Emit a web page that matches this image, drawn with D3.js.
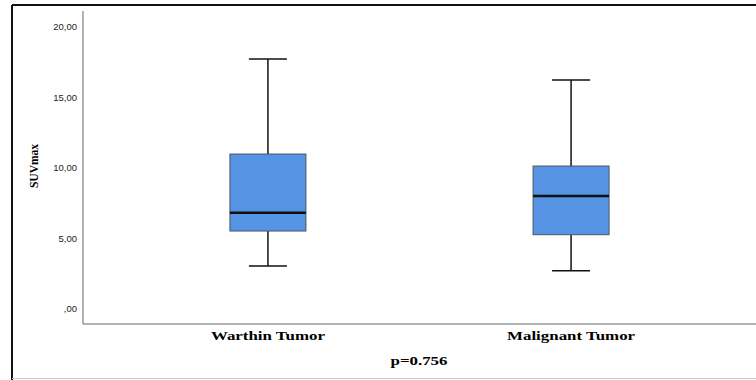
<!DOCTYPE html>
<html>
<head>
<meta charset="utf-8">
<script src="https://cdn.jsdelivr.net/npm/d3@7"></script>
<style>
  body { margin: 0; background: #fff; }
  svg { display: block; }
</style>
</head>
<body>
<div class="chart"></div>
<script>
var width = 756,
    height = 380;

// box plot data
var groups = ["Warthin Tumor", "Malignant Tumor"];
var whiskerLow  = [3.05, 2.72];
var q1          = [5.53, 5.27];
var medians     = [6.83, 8.01];
var q3          = [10.99, 10.14];
var whiskerHigh = [17.73, 16.24];
var yTicks = [0, 5, 10, 15, 20];
var pLabel = "p=0.756";

var boxes = groups.map(function(g, i) {
  return { name: g, lo: whiskerLow[i], q1: q1[i], med: medians[i], q3: q3[i], hi: whiskerHigh[i] };
});

var svg = d3.select(".chart").append("svg")
    .attr("width", width)
    .attr("height", height);

// outer frame
svg.append("line").attr("x1", 12).attr("x2", 12).attr("y1", 5).attr("y2", height)
    .attr("stroke", "#111").attr("stroke-width", 2);
svg.append("line").attr("x1", 12).attr("x2", width).attr("y1", 5).attr("y2", 5)
    .attr("stroke", "#111").attr("stroke-width", 2);
svg.append("line").attr("x1", 12).attr("x2", width).attr("y1", 378.5).attr("y2", 378.5)
    .attr("stroke", "#ccc").attr("stroke-width", 1);

var x = d3.scalePoint()
    .domain(groups)
    .range([83, 756])
    .padding(0.61);

var y = d3.scaleLinear()
    .domain([0, 20])
    .range([309, 27]);

// axes
svg.append("line").attr("x1", 83).attr("x2", 83).attr("y1", 11).attr("y2", 324)
    .attr("stroke", "#999").attr("stroke-width", 1.5);
svg.append("line").attr("x1", 83).attr("x2", width).attr("y1", 324).attr("y2", 324)
    .attr("stroke", "#999").attr("stroke-width", 1.5);

var fmt = function(d) { return d === 0 ? ",00" : d3.format(".2f")(d).replace(".", ","); };

svg.selectAll(".ytick")
    .data(yTicks)
  .enter().append("text")
    .attr("class", "ytick")
    .attr("x", 77)
    .attr("y", function(d) { return y(d); })
    .attr("dy", "0.35em")
    .attr("text-anchor", "end")
    .style("font-family", "'Liberation Sans', Arial, sans-serif")
    .style("font-size", "9.5px")
    .style("fill", "#222")
    .text(fmt);

svg.append("text")
    .attr("transform", "translate(38,166) rotate(-90)")
    .attr("text-anchor", "middle")
    .style("font-family", "'Liberation Serif', 'Times New Roman', serif")
    .style("font-weight", "bold")
    .style("font-size", "11.5px")
    .style("fill", "#000")
    .text("SUVmax");

var boxW = 76, capW = 38;

var g = svg.selectAll(".box")
    .data(boxes)
  .enter().append("g")
    .attr("class", "box")
    .attr("transform", function(d) { return "translate(" + x(d.name) + ",0)"; });

// whiskers
g.append("line").attr("x1", 0).attr("x2", 0)
    .attr("y1", function(d) { return y(d.hi); })
    .attr("y2", function(d) { return y(d.q3); })
    .attr("stroke", "#111").attr("stroke-width", 1.5);
g.append("line").attr("x1", 0).attr("x2", 0)
    .attr("y1", function(d) { return y(d.q1); })
    .attr("y2", function(d) { return y(d.lo); })
    .attr("stroke", "#111").attr("stroke-width", 1.5);
g.append("line").attr("x1", -capW / 2).attr("x2", capW / 2)
    .attr("y1", function(d) { return y(d.hi); })
    .attr("y2", function(d) { return y(d.hi); })
    .attr("stroke", "#111").attr("stroke-width", 1.5);
g.append("line").attr("x1", -capW / 2).attr("x2", capW / 2)
    .attr("y1", function(d) { return y(d.lo); })
    .attr("y2", function(d) { return y(d.lo); })
    .attr("stroke", "#111").attr("stroke-width", 1.5);

// box
g.append("rect")
    .attr("x", -boxW / 2)
    .attr("width", boxW)
    .attr("y", function(d) { return y(d.q3); })
    .attr("height", function(d) { return y(d.q1) - y(d.q3); })
    .attr("fill", "#5594e4")
    .attr("stroke", "#4a5563")
    .attr("stroke-width", 1);

// median
g.append("line").attr("x1", -boxW / 2).attr("x2", boxW / 2)
    .attr("y1", function(d) { return y(d.med); })
    .attr("y2", function(d) { return y(d.med); })
    .attr("stroke", "#111").attr("stroke-width", 2.5);

// category labels (wide bold serif, stretched horizontally)
svg.selectAll(".xlab")
    .data(groups)
  .enter().append("text")
    .attr("class", "xlab")
    .attr("transform", function(d) { return "translate(" + x(d) + ",340) scale(1.3,1)"; })
    .attr("text-anchor", "middle")
    .style("font-family", "'Liberation Serif', 'Times New Roman', serif")
    .style("font-weight", "bold")
    .style("font-size", "13px")
    .style("fill", "#000")
    .text(function(d) { return d; });

svg.append("text")
    .attr("transform", "translate(419,365) scale(1.3,1)")
    .attr("text-anchor", "middle")
    .style("font-family", "'Liberation Serif', 'Times New Roman', serif")
    .style("font-weight", "bold")
    .style("font-size", "13px")
    .style("fill", "#000")
    .text(pLabel);
</script>
</body>
</html>
